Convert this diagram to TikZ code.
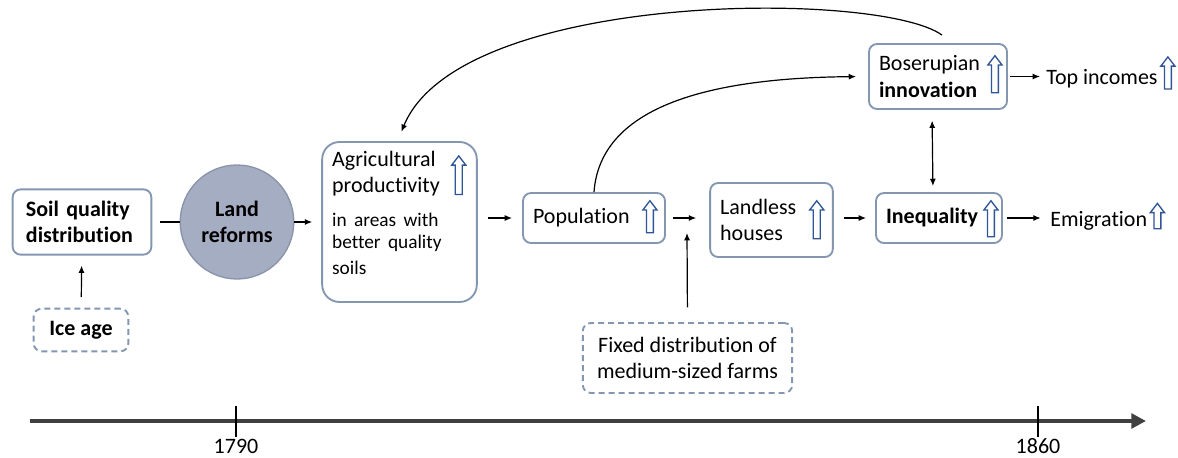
\documentclass[tikz,border=0pt]{standalone}
\usepackage{fontspec}
\setmainfont[Ligatures=NoCommon]{Carlito}
\usetikzlibrary{arrows.meta,shapes.arrows,shapes.geometric,calc}

\definecolor{boxline}{HTML}{8497B0}
\definecolor{ellfill}{HTML}{A5ADC2}
\definecolor{ellline}{HTML}{8A93A9}
\definecolor{upblue}{HTML}{2F5597}
\definecolor{axisgray}{HTML}{404040}

\tikzset{
  box/.style={draw=boxline, line width=1.4pt, rounded corners=6pt, fill=white,
    align=left, inner xsep=7.5pt, inner ysep=2pt},
  dashbox/.style={box, dash pattern=on 4.5pt off 3pt},
  uparr/.style={single arrow, shape border rotate=90, draw=upblue, line width=1pt,
    fill=white, inner sep=2.1pt, single arrow head extend=2.7pt,
    single arrow tip angle=75, minimum height=#1},
  conn/.style={-{Latex[length=5.5pt,width=4.5pt]}, line width=0.9pt},
  bothconn/.style={{Latex[length=5.5pt,width=4.5pt]}-{Latex[length=5.5pt,width=4.5pt]}, line width=0.9pt},
}

\begin{document}
\begin{tikzpicture}[x=0.75pt, y=-0.75pt, font=\fontsize{16.5}{20}\selectfont]
    \useasboundingbox (0,0) rectangle (1178,457);

    % left part
    \node[box, font=\fontsize{16.5}{20}\selectfont\bfseries, inner xsep=10pt,
      text width=84pt, minimum height=49pt] (soil) at (82,222) {Soil quality\\distribution};
    \node[dashbox, font=\fontsize{16.5}{20}\selectfont\bfseries, align=center,
      minimum width=71pt, minimum height=32pt] (ice) at (81,330) {Ice age};
    \node[ellipse, fill=ellfill, draw=ellline, line width=1pt, align=center,
      font=\fontsize{16.5}{20}\selectfont\bfseries,
      minimum width=79.5pt, minimum height=85.5pt] (land) at (237,222) {Land\\reforms};
    \node[box, rounded corners=13pt, text width=101pt, minimum height=120pt] (agri) at (399.5,222)
      {Agricultural\\productivity\\[7pt]{\fontsize{14.5}{18}\selectfont in areas with\\[-1pt]better quality\\[-1pt]soils\rule[-14pt]{0pt}{1pt}}};
    \node[uparr=29pt] (agriup) at ($(agri.east)+(-19,-44.5)$) {};

    % middle row
    \node[box, text width=91.5pt, minimum height=37.5pt] (pop) at (594,218) {Population};
    \node[uparr=24pt] (popup) at ($(pop.east)+(-16,1)$) {};
    \node[box, text width=77pt, minimum height=55.5pt] (landless) at (771.5,220) {Landless\\houses};
    \node[uparr=28.5pt] (landlessup) at ($(landless.east)+(-17,2)$) {};
    \node[box, font=\fontsize{16.5}{20}\selectfont\bfseries, text width=79.5pt,
      minimum height=37.5pt] (ineq) at (939,218) {Inequality};
    \node[uparr=27pt] (inequp) at ($(ineq.east)+(-12,3)$) {};
    \node[anchor=base west, inner sep=0pt] (emig) at (1050,226) {Emigration};
    \node[uparr=19pt] (emigup) at ($(emig.east)+(10,-2)$) {};

    % top row
    \node[box, text width=88.5pt, minimum height=48.75pt] (inno) at (938,76.5)
      {Boserupian\\\textbf{innovation}};
    \node[uparr=27.75pt] (innoup) at ($(inno.east)+(-13,0)$) {};
    \node[anchor=base west, inner sep=0pt] (top) at (1046,84) {Top incomes};
    \node[uparr=24pt] (topup) at ($(top.east)+(10,-3)$) {};

    % bottom
    \node[dashbox, align=center, minimum width=157pt, minimum height=52.5pt] (fixed) at (687.5,358)
      {Fixed distribution of\\medium-sized farms};
    \coordinate (join) at (687,233);

    % connectors
    \draw[conn, shorten <=8pt, shorten >=7.5pt] (ice) -- (soil);
    \draw[line width=0.9pt, shorten <=6pt] (soil.east) -- (land.west);
    \draw[conn, shorten >=6.75pt] (land.east) -- (agri.west |- land.east);
    \draw[conn, shorten <=7.5pt, shorten >=7.5pt] (agri.east |- pop.west) -- (pop.west);
    \draw[conn, shorten <=5.25pt, shorten >=9.75pt] (pop.east) -- (landless.west |- pop.east);
    \draw[conn, shorten <=11pt] (fixed.north) -- (join);
    \draw[conn, shorten <=7.5pt, shorten >=6.75pt] (landless.east |- ineq.west) -- (ineq.west);
    \draw[conn, shorten <=3pt, shorten >=7pt] (ineq.east) -- (emig.west |- ineq.east);
    \draw[conn, shorten <=1.5pt, shorten >=4.5pt] (inno.east) -- (top.west |- inno.east);
    \draw[bothconn, shorten <=8pt, shorten >=4.5pt] ($(inno.south)+(-6,0)$) -- ($(ineq.north)+(-6,0)$);
    \draw[conn, shorten >=9pt] (pop.north) .. controls (600,110) and (700,78) .. (inno.west);
    \draw[conn, shorten >=7.5pt] ($(inno.north)+(4,-8)$) .. controls (880,-10) and (460,-10) .. ($(agri.north)+(-2,0)$);

    % time line
    \draw[axisgray, line width=3.7pt, -{Triangle[length=11pt,width=11pt]}] (30,421) -- (1146,421);
    \draw[line width=1.2pt] (236,406) -- (236,437);
    \draw[line width=1.2pt] (1038,406) -- (1038,437);
    \node[inner sep=0pt] (y1790) at (236,446) {1790};
    \node[inner sep=0pt] (y1860) at (1038,446) {1860};
\end{tikzpicture}
\end{document}
